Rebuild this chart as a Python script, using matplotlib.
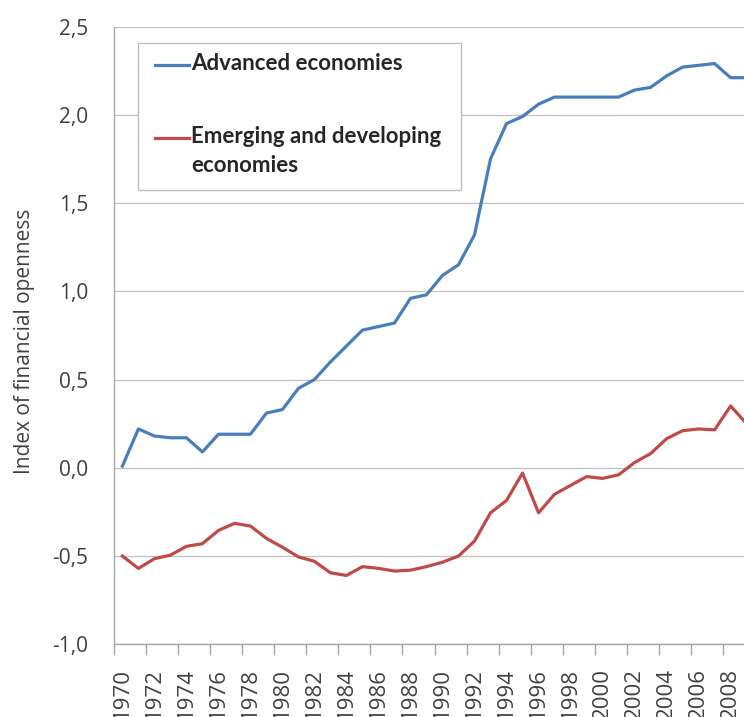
import matplotlib.pyplot as plt
from matplotlib.patches import Rectangle
from matplotlib.lines import Line2D
from matplotlib.ticker import FixedLocator, FuncFormatter

# Financial openness index, 1970-2009
years = list(range(1970, 2010))
advanced = [0.01, 0.22, 0.18, 0.17, 0.17, 0.09, 0.19, 0.19, 0.19, 0.31,
            0.33, 0.45, 0.50, 0.60, 0.69, 0.78, 0.80, 0.82, 0.96, 0.98,
            1.09, 1.15, 1.32, 1.75, 1.95, 1.99, 2.06, 2.10, 2.10, 2.10,
            2.10, 2.10, 2.14, 2.155, 2.22, 2.27, 2.28, 2.29, 2.21, 2.21]
emerging = [-0.50, -0.57, -0.515, -0.495, -0.445, -0.43, -0.355, -0.315, -0.33, -0.40,
            -0.45, -0.505, -0.53, -0.595, -0.61, -0.56, -0.57, -0.585, -0.58, -0.56,
            -0.535, -0.50, -0.415, -0.255, -0.185, -0.03, -0.255, -0.15, -0.10, -0.05,
            -0.06, -0.04, 0.03, 0.08, 0.165, 0.21, 0.22, 0.215, 0.35, 0.25]
label_years = years[::2]
y_ticks = [-1.0, -0.5, 0.0, 0.5, 1.0, 1.5, 2.0, 2.5]

blue = '#4A7EBB'
red = '#BE4B48'
grid_col = '#C4C4C4'
text_col = '#404040'

W, H = 744, 717
fig = plt.figure(figsize=(W / 100, H / 100), dpi=100)

# axes runs a bit past the right edge, like the cropped original
left, right, top, bottom = 114.4, 754.6, 26.5, 644.3
ax = fig.add_axes([left / W, 1 - bottom / H, (right - left) / W, (bottom - top) / H])

ax.plot(years, advanced, color=blue, lw=2.3, solid_joinstyle='round', clip_on=False, zorder=3)
ax.plot(years, emerging, color=red, lw=2.3, solid_joinstyle='round', clip_on=False, zorder=3)

ax.set_xlim(years[0] - 0.5, years[-1] + 0.5)
ax.set_ylim(y_ticks[0], y_ticks[-1])

# gridlines
ax.set_yticks(y_ticks)
ax.yaxis.set_major_formatter(FuncFormatter(lambda v, p: f'{v:.1f}'.replace('.', ',')))
ax.grid(axis='y', color=grid_col, lw=1.0)
ax.set_axisbelow(True)
ax.tick_params(axis='y', length=0, pad=19, labelsize=15, labelcolor=text_col)
for lab in ax.get_yticklabels():
    lab.set_fontfamily('Open Sans')

# category-style x axis: tick marks between categories, labels centered
ax.xaxis.set_major_locator(FixedLocator([y - 0.5 for y in label_years]))
ax.xaxis.set_major_formatter(FuncFormatter(lambda v, p: ''))
ax.xaxis.set_minor_locator(FixedLocator(label_years))
ax.xaxis.set_minor_formatter(FuncFormatter(lambda v, p: f'{int(round(v))}'))
ax.tick_params(axis='x', which='major', length=8, width=1, color='#A6A6A6', direction='out')
ax.tick_params(axis='x', which='minor', length=0, pad=17, labelsize=16,
               labelcolor=text_col, labelrotation=90)
for lab in ax.xaxis.get_minorticklabels():
    lab.set_fontfamily('Open Sans')

for s in ['top', 'right']:
    ax.spines[s].set_visible(False)
for s in ['left', 'bottom']:
    ax.spines[s].set_color('#A6A6A6')
    ax.spines[s].set_linewidth(1.0)

ax.set_ylabel('Index of financial openness', fontsize=15, color=text_col, family='Open Sans')
ax.yaxis.set_label_coords(-0.124, 0.49)

# legend box drawn in figure pixels
def fx(px):
    return px / W


def fy(py):
    return 1 - py / H


fig.patches.append(Rectangle((fx(137.7), fy(190)), fx(461) - fx(137.7), fy(42.7) - fy(190),
                             transform=fig.transFigure, facecolor='white',
                             edgecolor='#BDBDBD', lw=1.0, zorder=5))
entries = [(blue, 'Advanced economies', 65), (red, 'Emerging and developing\neconomies', 138)]
for col, txt, py in entries:
    fig.lines.append(Line2D([fx(155), fx(189)], [fy(py), fy(py)], color=col, lw=2.3,
                            transform=fig.transFigure, zorder=6))
    fig.text(fx(191), fy(py - 12), txt, fontsize=16, fontweight='bold', family='Lato',
             color='#262626', va='top', ha='left', linespacing=1.45, zorder=6)

fig.savefig('out.png', dpi=100)
